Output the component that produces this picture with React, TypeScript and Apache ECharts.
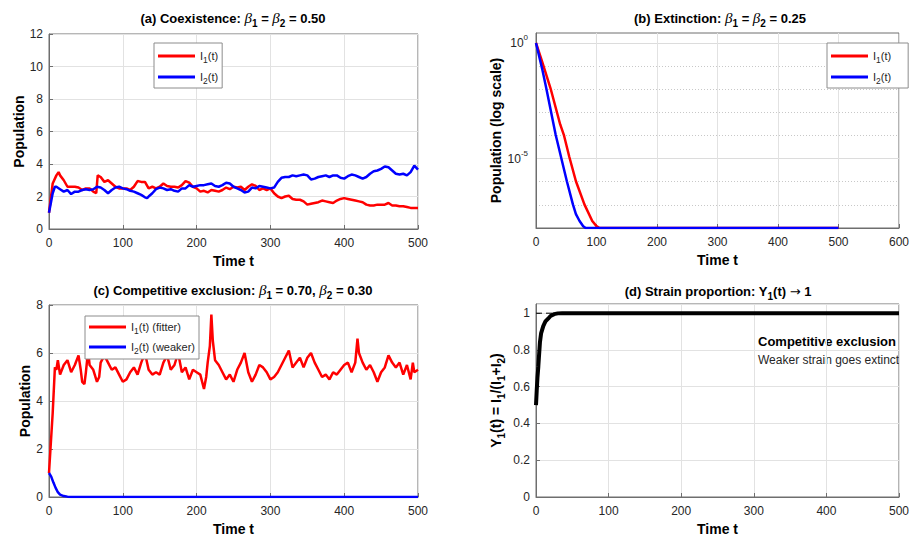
import React, { useEffect, useRef } from "react";
import * as echarts from "echarts";

// ---------- DATA ----------
// (a) Coexistence beta1 = beta2 = 0.50
const aI1: number[][] = [[0,1.0],[5,2.8],[10,3.3],[13,3.5],[15,3.3],[20,3.0],[25,2.6],[30,2.6],[35,2.6],[40,2.55],[45,2.4],[50,2.5],[55,2.5],[60,2.3],[64,2.2],[66,3.3],[70,3.2],[75,2.9],[80,3.0],[85,2.8],[90,2.6],[95,2.5],[100,2.5],[105,2.5],[110,2.4],[115,2.6],[120,2.95],[125,2.9],[130,2.9],[135,2.5],[140,2.6],[145,2.5],[150,2.6],[155,2.8],[160,2.65],[165,2.6],[170,2.6],[175,2.55],[180,2.7],[185,2.95],[190,2.85],[195,2.6],[200,2.5],[205,2.3],[210,2.35],[215,2.25],[220,2.4],[225,2.35],[230,2.3],[235,2.4],[240,2.55],[245,2.45],[250,2.6],[255,2.55],[260,2.6],[265,2.4],[270,2.6],[275,2.75],[280,2.65],[285,2.4],[290,2.5],[295,2.4],[300,2.5],[305,2.2],[310,2.0],[315,1.9],[320,2.0],[325,2.05],[330,1.85],[335,1.8],[340,1.8],[345,1.7],[350,1.5],[355,1.55],[360,1.6],[365,1.65],[370,1.75],[375,1.7],[380,1.65],[385,1.6],[390,1.75],[395,1.85],[400,1.9],[405,1.85],[410,1.8],[415,1.75],[420,1.7],[425,1.65],[430,1.5],[435,1.45],[440,1.45],[445,1.5],[450,1.5],[455,1.5],[460,1.6],[465,1.45],[470,1.45],[475,1.4],[480,1.4],[485,1.35],[490,1.3],[495,1.3],[500,1.3]];
const aI2: number[][] = [[0,1.0],[5,2.2],[8,2.6],[10,2.6],[15,2.45],[20,2.3],[25,2.4],[30,2.15],[35,2.3],[40,2.3],[45,2.4],[50,2.45],[55,2.4],[60,2.45],[65,2.6],[70,2.55],[75,2.4],[80,2.2],[85,2.4],[90,2.55],[95,2.6],[100,2.5],[105,2.45],[110,2.35],[115,2.3],[120,2.2],[125,2.1],[130,1.95],[133,1.9],[135,2.0],[140,2.2],[145,2.45],[150,2.55],[155,2.5],[160,2.4],[165,2.45],[170,2.35],[175,2.3],[180,2.5],[185,2.5],[190,2.7],[195,2.6],[200,2.65],[205,2.7],[210,2.7],[215,2.75],[220,2.8],[225,2.65],[230,2.6],[235,2.7],[240,2.85],[245,2.8],[250,2.6],[255,2.5],[260,2.4],[265,2.25],[270,2.3],[275,2.55],[280,2.5],[285,2.65],[290,2.6],[295,2.55],[300,2.5],[305,2.55],[310,2.9],[315,3.15],[320,3.2],[325,3.2],[330,3.3],[335,3.25],[340,3.3],[345,3.35],[350,3.3],[355,3.05],[360,3.1],[365,3.2],[370,3.25],[375,3.3],[380,3.2],[385,3.3],[390,3.3],[395,3.15],[400,3.1],[405,3.25],[410,3.35],[415,3.3],[420,3.2],[425,3.1],[430,3.2],[435,3.4],[440,3.55],[445,3.6],[450,3.7],[455,3.85],[460,3.8],[465,3.6],[470,3.4],[475,3.35],[480,3.4],[485,3.3],[490,3.5],[495,3.9],[500,3.65]];

// (b) Extinction beta1 = beta2 = 0.25 (log scale)
const bI1: number[][] = [[0,1],[10,0.16],[24,1.1e-2],[40,3e-4],[46,1.07e-4],[55,1.2e-5],[66,1.05e-6],[80,1.05e-7],[93,2e-8],[100,1.2e-8],[105,1e-8],[500,1e-8]];
const bI2: number[][] = [[0,1],[10,0.08],[17,1.1e-2],[32.5,1.07e-4],[51,1.05e-6],[61,1.05e-7],[66,4e-8],[72,2e-8],[78,1.2e-8],[82,1e-8],[500,1e-8]];

// (c) Competitive exclusion beta1 = 0.70, beta2 = 0.30
const cI1: number[][] = [[0,1.0],[5,3.5],[8,5.4],[10,5.3],[12,5.7],[15,5.1],[20,5.5],[25,5.7],[30,5.2],[35,5.5],[40,5.9],[43,5.3],[45,4.8],[48,4.7],[50,5.2],[53,6.1],[55,5.5],[60,5.3],[65,4.8],[68,5.0],[70,5.6],[75,5.9],[80,5.6],[85,5.3],[90,5.4],[95,5.1],[100,4.8],[105,4.9],[110,5.2],[115,5.4],[120,5.1],[125,5.6],[130,6.0],[135,5.3],[140,5.1],[145,5.2],[150,5.1],[155,5.6],[160,5.9],[165,5.3],[170,5.5],[175,6.0],[180,5.2],[185,5.4],[190,4.9],[195,5.3],[200,5.2],[205,5.1],[210,4.5],[213,5.0],[215,5.6],[218,6.3],[220,7.6],[222,6.5],[225,5.7],[230,5.5],[235,5.2],[240,4.9],[245,5.1],[250,4.8],[255,5.3],[260,5.6],[265,6.0],[270,5.2],[275,4.8],[280,5.1],[285,5.5],[290,5.4],[295,5.2],[300,4.9],[305,5.0],[310,5.2],[315,5.5],[320,5.8],[325,6.1],[330,5.4],[335,5.6],[340,5.8],[345,5.4],[350,5.8],[355,6.0],[360,5.6],[365,5.3],[370,5.0],[375,5.1],[380,4.9],[385,5.2],[390,5.1],[395,5.3],[400,5.5],[405,5.6],[410,5.2],[415,5.6],[418,6.6],[420,6.0],[425,5.6],[430,5.3],[435,5.5],[440,5.2],[445,4.8],[450,5.2],[455,5.4],[460,5.9],[465,5.6],[470,5.4],[475,5.6],[480,5.1],[485,5.5],[490,4.9],[493,5.6],[495,5.2],[500,5.3]];
const cI2: number[][] = [[0,1.0],[3,0.85],[6,0.6],[9,0.38],[12,0.2],[15,0.1],[20,0.04],[25,0.015],[30,0.005],[40,0.001],[60,0],[500,0]];

// (d) Strain proportion Y1(t)
const dY1: number[][] = [[0,0.5],[1,0.58],[2,0.65],[3.2,0.71],[4,0.76],[5.4,0.84],[7,0.89],[10,0.93],[13,0.955],[16.7,0.97],[20,0.985],[25,0.995],[30,0.999],[36,1],[500,1]];
const dRef: number[][] = [[0,1],[500,1]];

const legendNames: Record<string, string> = {
  a1: "I{s|1}(t)", a2: "I{s|2}(t)",
  b1: "I{s|1}(t)", b2: "I{s|2}(t)",
  c1: "I{s|1}(t) (fitter)", c2: "I{s|2}(t) (weaker)",
};

// ---------- STYLE ----------
const FONT = "Liberation Sans, Arial, sans-serif";
const TXT = "#262626";
const GRIDC = "#e2e2e2";
const AXC = "#6e6e6e";
const RED = "#ff0000";
const BLUE = "#0000ff";

const subRich = {
  s: { fontSize: 8.5, lineHeight: 16, verticalAlign: "bottom", fontFamily: FONT, color: TXT },
};

const titleRich = {
  g: { fontFamily: "Liberation Serif, serif", fontStyle: "italic", fontWeight: "normal", fontSize: 15, color: "#000", lineHeight: 20, verticalAlign: "middle" },
  s: { fontFamily: FONT, fontWeight: "bold", fontSize: 10, color: "#000", lineHeight: 20, verticalAlign: "bottom" },
  arr: { fontFamily: "DejaVu Sans, sans-serif", fontWeight: "normal", fontSize: 13, color: "#000", lineHeight: 20, verticalAlign: "middle" },
};

function xAxis(gridIndex: number, max: number) {
  return {
    type: "value", gridIndex, min: 0, max, interval: 100,
    name: "Time t", nameLocation: "middle", nameGap: 25,
    nameTextStyle: { fontFamily: FONT, fontWeight: "bold", fontSize: 14, color: "#000" },
    axisLine: { show: true, lineStyle: { color: AXC, width: 1 } },
    axisTick: { show: true, inside: true, length: 4, lineStyle: { color: AXC } },
    axisLabel: { fontFamily: FONT, fontSize: 12, color: TXT, margin: 8 },
    splitLine: { show: true, lineStyle: { color: GRIDC, width: 1 } },
  };
}

function yAxisLin(gridIndex: number, min: number, max: number, interval: number, name: string, nameGap: number, opts: any = {}) {
  return {
    type: "value", gridIndex, min, max, interval,
    name, nameLocation: "middle", nameGap, nameRotate: 90,
    nameTextStyle: { fontFamily: FONT, fontWeight: "bold", fontSize: 14, color: "#000" },
    axisLine: { show: true, lineStyle: { color: AXC, width: 1 } },
    axisTick: { show: true, inside: true, length: 4, lineStyle: { color: AXC } },
    axisLabel: { fontFamily: FONT, fontSize: 12, color: TXT, margin: 6 },
    splitLine: { show: true, lineStyle: { color: GRIDC, width: 1 } },
    ...opts,
  };
}

function legend(data: string[], left: number, top: number, padding: number[], gap: number) {
  return {
    data: data.map((n) => ({ name: n, icon: "rect" })),
    orient: "vertical", left, top,
    itemWidth: 37, itemHeight: 3, itemGap: gap,
    padding,
    borderColor: "#8c8c8c", borderWidth: 1, backgroundColor: "#fff",
    formatter: (n: string) => legendNames[n],
    textStyle: { fontFamily: FONT, fontSize: 11, color: TXT, lineHeight: 16, rich: subRich },
    selectedMode: false,
  };
}

function title(text: string, left: number, top: number) {
  return {
    text, left, top, textAlign: "center", padding: 0,
    textStyle: { fontFamily: FONT, fontWeight: "bold", fontSize: 13, color: "#000", lineHeight: 20, rich: titleRich },
  };
}

function line(name: string, data: number[][], color: string, xi: number, yi: number, width = 2.5) {
  return {
    type: "line", name, data, xAxisIndex: xi, yAxisIndex: yi,
    showSymbol: false, symbol: "none", lineStyle: { color, width }, itemStyle: { color },
    emphasis: { disabled: true }, silent: true, clip: true,
  };
}

const T = "rgba(0,0,0,0)";
const majorColors = [T, T, T, "#dcdcdc", T, T, T, T, "#dcdcdc", T];
const minorColors = [T, "#c8c8c8", "#c8c8c8", T, "#c8c8c8", "#c8c8c8", "#c8c8c8", "#c8c8c8", T, T];

function logLabel(v: number) {
  const l = Math.log10(v);
  const e = Math.round(l);
  if (Math.abs(l - e) > 0.01) return "";
  if (e === 0) return "10{sup|0}";
  if (e === -5) return "10{sup|-5}";
  return "";
}

export default function App() {
  const ref = useRef<HTMLDivElement>(null);
  useEffect(() => {
    if (!ref.current) return;
    const chart = echarts.init(ref.current, undefined, { renderer: "svg" });
    const option: any = {
      animation: false,
      backgroundColor: "#fff",
      grid: [
        { left: 49, top: 34, width: 369, height: 195, show: true, borderColor: AXC, borderWidth: 1, backgroundColor: "#fff" },
        { left: 536, top: 33, width: 369, height: 195, show: true, borderColor: AXC, borderWidth: 1, backgroundColor: "#fff" },
        { left: 49, top: 305, width: 369, height: 194, show: true, borderColor: AXC, borderWidth: 1, backgroundColor: "#fff" },
        { left: 536, top: 304, width: 369, height: 195, show: true, borderColor: AXC, borderWidth: 1, backgroundColor: "#fff" },
      ],
      title: [
        title("(a) Coexistence: {g|β}{s|1} = {g|β}{s|2} = 0.50", 233, 8),
        title("(b) Extinction: {g|β}{s|1} = {g|β}{s|2} = 0.25", 720, 8),
        title("(c) Competitive exclusion: {g|β}{s|1} = 0.70, {g|β}{s|2} = 0.30", 233, 280),
        title("(d) Strain proportion: Y{s|1}(t) {arr|→} 1", 718, 281),
      ],
      legend: [
        legend(["a1", "a2"], 154, 43, [5, 4, 3, 4], 5),
        legend(["b1", "b2"], 827, 43, [5, 17, 3, 4], 5),
        legend(["c1", "c2"], 85, 316, [3, 4, 4, 4], 4),
      ],
      xAxis: [xAxis(0, 500), xAxis(1, 600), xAxis(2, 500), xAxis(3, 500)],
      yAxis: [
        yAxisLin(0, 0, 12, 2, "Population", 22),
        {
          type: "log", logBase: 10, gridIndex: 1, min: 1e-8, max: 2.7, splitNumber: 10,
          name: "Population (log scale)", nameLocation: "middle", nameGap: 33, nameRotate: 90,
          nameTextStyle: { fontFamily: FONT, fontWeight: "bold", fontSize: 14, color: "#000" },
          axisLine: { show: true, lineStyle: { color: AXC, width: 1 } },
          axisTick: { show: false },
          axisLabel: {
            fontFamily: FONT, fontSize: 12, color: TXT, margin: 8, formatter: logLabel,
            rich: {
              sup: { fontSize: 8, lineHeight: 18, verticalAlign: "top", fontFamily: FONT, color: TXT },
            },
            lineHeight: 18,
          },
          splitLine: { show: true, lineStyle: { color: majorColors, width: 1 } },
        },
        yAxisLin(2, 0, 8, 2, "Population", 16),
        yAxisLin(3, 0, 1.05, 0.2, "Y{s|1}(t) = I{s|1}/(I{s|1}+I{s|2})", 30, {
          axisLabel: { fontFamily: FONT, fontSize: 12, color: TXT, margin: 6, showMaxLabel: false },
          nameTextStyle: {
            fontFamily: FONT, fontWeight: "bold", fontSize: 14, color: "#000", lineHeight: 20,
            rich: { s: { fontFamily: FONT, fontWeight: "bold", fontSize: 10, color: "#000", lineHeight: 20, verticalAlign: "bottom" } },
          },
        }),
        {
          type: "log", logBase: 10, gridIndex: 1, min: 1e-8, max: 2.7, splitNumber: 10,
          axisLine: { show: false }, axisTick: { show: false }, axisLabel: { show: false },
          splitLine: { show: true, lineStyle: { color: minorColors, width: 1, type: [1, 2] } },
        },
      ],
      series: [
        line("a1", aI1, RED, 0, 0),
        line("a2", aI2, BLUE, 0, 0),
        line("b1", bI1, RED, 1, 1),
        line("b2", bI2, BLUE, 1, 1),
        line("c1", cI1, RED, 2, 2),
        line("c2", cI2, BLUE, 2, 2),
        { ...line("dref", dRef, "#000", 3, 3, 1), lineStyle: { color: "#000", width: 1, type: [6, 4] } },
        line("dY", dY1, "#000", 3, 3, 4),
      ],
      graphic: [
        { type: "text", left: 758, top: 335, style: { text: "Competitive exclusion", fontFamily: FONT, fontWeight: "bold", fontSize: 13, fill: "#000" } },
        { type: "text", left: 758, top: 354, style: { text: "Weaker strain goes extinct", fontFamily: FONT, fontSize: 12, fill: TXT } },
      ],
    };
    chart.setOption(option);
    return () => chart.dispose();
  }, []);
  return <div ref={ref} style={{ position: "fixed", left: 0, top: 0, width: 912, height: 537 }} />;
}
